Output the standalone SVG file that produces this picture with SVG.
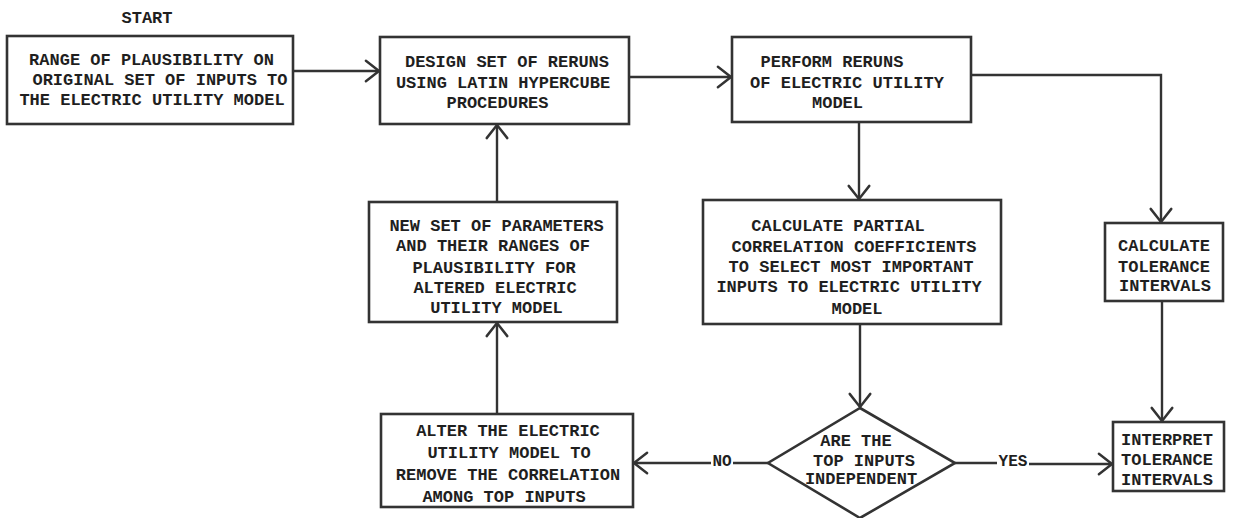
<svg xmlns="http://www.w3.org/2000/svg" width="1233" height="518" viewBox="0 0 1233 518">
  <style>
    .box { fill: #ffffff; stroke: #333333; stroke-width: 2.6; }
    .lbl { font-family: "Liberation Mono", "DejaVu Sans Mono", monospace; font-size: 17px; font-weight: bold; fill: #1f1f1f; text-anchor: middle; }
    .tag { font-family: "Liberation Mono", "DejaVu Sans Mono", monospace; font-size: 16px; font-weight: bold; fill: #1f1f1f; text-anchor: middle; }
    .wire { fill: none; stroke: #333333; stroke-width: 2.4; }
  </style>
  <defs>
    <marker id="vee" markerUnits="userSpaceOnUse" markerWidth="30" markerHeight="30" viewBox="-16 -15 32 30" refX="0" refY="0" orient="auto">
      <path d="M -14 -11 L 0 0 L -14 11" fill="none" stroke="#333333" stroke-width="2.6" stroke-linecap="round" stroke-linejoin="round"/>
    </marker>
  </defs>

  <rect width="1233" height="518" fill="#ffffff"/>

  <text class="lbl" x="147" y="22.5">START</text>

  <g id="range">
    <rect class="box" x="7" y="36" width="286" height="88"/>
    <text class="lbl" x="151.5" y="65">RANGE OF PLAUSIBILITY ON</text>
    <text class="lbl" x="160" y="85">ORIGINAL SET OF INPUTS TO</text>
    <text class="lbl" x="152" y="105">THE ELECTRIC UTILITY MODEL</text>
  </g>

  <g id="design">
    <rect class="box" x="380" y="37" width="249" height="87"/>
    <text class="lbl" x="507" y="66.5">DESIGN SET OF RERUNS</text>
    <text class="lbl" x="503" y="87.5">USING LATIN HYPERCUBE</text>
    <text class="lbl" x="497.5" y="107.5">PROCEDURES</text>
  </g>

  <g id="perform">
    <rect class="box" x="732" y="37" width="239" height="85"/>
    <text class="lbl" x="832" y="66.5">PERFORM RERUNS</text>
    <text class="lbl" x="847" y="87.5">OF ELECTRIC UTILITY</text>
    <text class="lbl" x="837.5" y="107.5">MODEL</text>
  </g>

  <g id="newset">
    <rect class="box" x="369" y="202" width="248" height="120"/>
    <text class="lbl" x="496.5" y="230.5">NEW SET OF PARAMETERS</text>
    <text class="lbl" x="493" y="250.5">AND THEIR RANGES OF</text>
    <text class="lbl" x="494" y="272.5">PLAUSIBILITY FOR</text>
    <text class="lbl" x="495" y="292.5">ALTERED ELECTRIC</text>
    <text class="lbl" x="496.5" y="312.5">UTILITY MODEL</text>
  </g>

  <g id="partial">
    <rect class="box" x="703" y="200" width="298" height="124"/>
    <text class="lbl" x="838" y="230.5">CALCULATE PARTIAL</text>
    <text class="lbl" x="854" y="251.5">CORRELATION COEFFICIENTS</text>
    <text class="lbl" x="851" y="271.5">TO SELECT MOST IMPORTANT</text>
    <text class="lbl" x="849" y="292">INPUTS TO ELECTRIC UTILITY</text>
    <text class="lbl" x="857" y="314">MODEL</text>
  </g>

  <g id="tolerance">
    <rect class="box" x="1105" y="223" width="118" height="78"/>
    <text class="lbl" x="1164" y="250.5">CALCULATE</text>
    <text class="lbl" x="1164" y="272">TOLERANCE</text>
    <text class="lbl" x="1165" y="290.5">INTERVALS</text>
  </g>

  <g id="alter">
    <rect class="box" x="381" y="414" width="252" height="93"/>
    <text class="lbl" x="508" y="435.5">ALTER THE ELECTRIC</text>
    <text class="lbl" x="509" y="457.5">UTILITY MODEL TO</text>
    <text class="lbl" x="508" y="479.5">REMOVE THE CORRELATION</text>
    <text class="lbl" x="504" y="501.5">AMONG TOP INPUTS</text>
  </g>

  <g id="decision">
    <polygon class="box" points="860,408 955,463 860,518 768,463"/>
    <text class="lbl" x="856" y="445.5">ARE THE</text>
    <text class="lbl" x="864" y="465.5">TOP INPUTS</text>
    <text class="lbl" x="861" y="483.5">INDEPENDENT</text>
  </g>

  <g id="interpret">
    <rect class="box" x="1113" y="422" width="111" height="69"/>
    <text class="lbl" x="1167" y="444.5">INTERPRET</text>
    <text class="lbl" x="1167" y="464.5">TOLERANCE</text>
    <text class="lbl" x="1167" y="484.5">INTERVALS</text>
  </g>

  <g id="connectors">
    <line class="wire" x1="293" y1="71" x2="379" y2="71" marker-end="url(#vee)"/>
    <line class="wire" x1="629" y1="77" x2="731" y2="77" marker-end="url(#vee)"/>
    <polyline class="wire" points="971,75 1161,75 1161,222" marker-end="url(#vee)"/>
    <line class="wire" x1="859" y1="122" x2="859" y2="199" marker-end="url(#vee)"/>
    <line class="wire" x1="860" y1="324" x2="860" y2="407" marker-end="url(#vee)"/>
    <line class="wire" x1="1162" y1="301" x2="1162" y2="421" marker-end="url(#vee)"/>
    <line class="wire" x1="497" y1="414" x2="497" y2="323" marker-end="url(#vee)"/>
    <line class="wire" x1="497" y1="202" x2="497" y2="125" marker-end="url(#vee)"/>
    <!-- YES branch -->
    <line class="wire" x1="955" y1="463" x2="997" y2="463"/>
    <text class="tag" x="1013" y="466">YES</text>
    <line class="wire" x1="1029" y1="464" x2="1112" y2="464" marker-end="url(#vee)"/>
    <!-- NO branch -->
    <line class="wire" x1="768" y1="463" x2="733" y2="463"/>
    <text class="tag" x="722" y="466">NO</text>
    <line class="wire" x1="711" y1="463" x2="634" y2="463" marker-end="url(#vee)"/>
  </g>
</svg>
